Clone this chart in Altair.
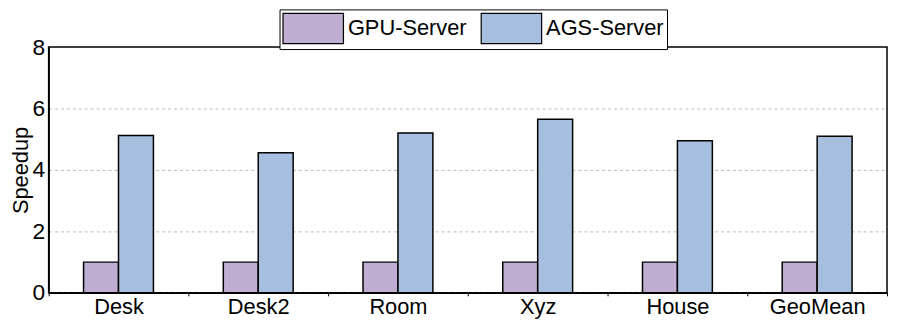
import altair as alt
import pandas as pd

categories = ["Desk", "Desk2", "Room", "Xyz", "House", "GeoMean"]
series = ["GPU-Server", "AGS-Server"]
gpu_server = [1.0, 1.0, 1.0, 1.0, 1.0, 1.0]
ags_server = [5.12, 4.56, 5.20, 5.65, 4.95, 5.10]
y_ticks = [0, 2, 4, 6, 8]
colors = ["#BFAED1", "#A7BFDF"]

rows = []
for i, c in enumerate(categories):
    rows.append({"cat": c, "series": series[0], "value": gpu_server[i]})
    rows.append({"cat": c, "series": series[1], "value": ags_server[i]})
df = pd.DataFrame(rows)

FONT = "Liberation Sans"

chart = alt.Chart(df).mark_bar(stroke="black", strokeWidth=1.5).encode(
    x=alt.X("cat:N", sort=categories,
            scale=alt.Scale(paddingInner=0, paddingOuter=0),
            axis=alt.Axis(title=None, labelAngle=0, labelFontSize=22, labelFont=FONT,
                          labelColor="black", tickBand="extent", tickSize=3,
                          tickColor="black", domainColor="black", domainWidth=1.5,
                          labelPadding=1)),
    xOffset=alt.XOffset("series:N", sort=series,
                        scale=alt.Scale(paddingInner=0, paddingOuter=1)),
    y=alt.Y("value:Q", scale=alt.Scale(domain=[0, 8], nice=False),
            axis=alt.Axis(title="Speedup", values=y_ticks, titleFontSize=22, titleFont=FONT,
                          titleFontWeight="normal", titleColor="black", titlePadding=0,
                          labelFontSize=23, labelFont=FONT, labelColor="black",
                          tickSize=0, labelPadding=4, domainColor="black", domainWidth=1.5,
                          grid=True, gridColor="#BBBBBB", gridDash=[3, 3], gridWidth=1,
                          gridOpacity={"condition": {"test": "datum.value >= 8", "value": 0}, "value": 1})),
    color=alt.Color("series:N", sort=series,
                    scale=alt.Scale(domain=series, range=colors),
                    legend=alt.Legend(title=None, orient="none", legendX=233, legendY=-38,
                                      direction="horizontal", columns=2,
                                      symbolType="M-2,-1H2V1H-2Z", symbolSize=930,
                                      symbolOffset=15,
                                      symbolStrokeColor="black", symbolStrokeWidth=1.2,
                                      symbolOpacity=1,
                                      labelFontSize=22, labelFont=FONT, labelColor="black",
                                      labelOffset=19, columnPadding=12,
                                      strokeColor="black", padding=3, fillColor="white")),
).properties(
    width=846, height=248,
    autosize=alt.AutoSizeParams(type="none"),
    padding={"left": 41, "top": 38, "right": 2, "bottom": 31},
).configure_view(stroke="black", strokeWidth=1.5)

chart.save("out.html", embed_options={"renderer": "svg", "actions": False})
